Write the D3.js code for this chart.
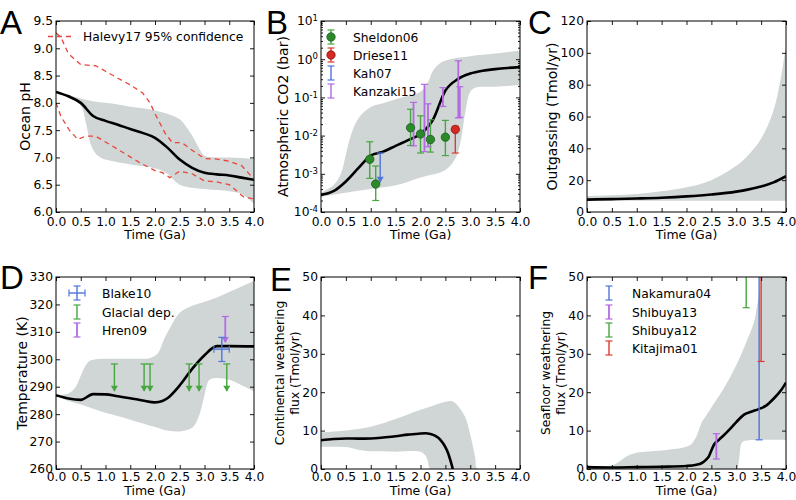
<!DOCTYPE html>
<html><head><meta charset="utf-8">
<script src="https://cdn.jsdelivr.net/npm/d3@7"></script>
<style>body{margin:0;background:#fff} svg{display:block}</style>
</head><body><svg id="c" width="796" height="500"></svg>
<script>
// ---------------- DATA ----------------
const xTicks = [0,0.5,1,1.5,2,2.5,3,3.5,4];
const phTicks = [6,6.5,7,7.5,8,8.5,9,9.5];
const co2Ticks = [1e-4,1e-3,1e-2,1e-1,1e0,1e1];
const outTicks = [0,20,40,60,80,100,120];
const tempTicks = [260,270,280,290,300,310,320,330];
const fluxTicks = [0,10,20,30,40,50];

// Panel A: ocean pH
const phTime   = [0,0.25,0.5,0.75,1,1.25,1.5,1.75,2,2.25,2.5,2.75,3,3.25,3.5,3.75,4];
const phMedian = [8.20,8.12,8.00,7.76,7.67,7.60,7.52,7.45,7.36,7.18,6.96,6.81,6.72,6.69,6.67,6.63,6.59];
const phUpperT = [0,0.25,0.5,0.75,1,1.25,1.5,1.75,2,2.25,2.5,2.6,2.75,2.9,3,3.25,3.5,3.75,4];
const phUpper  = [8.2,8.15,8.08,8.03,8.0,7.97,7.93,7.9,7.86,7.8,7.7,7.6,7.4,7.15,7.03,7.0,7.0,6.99,6.97];
const phLowerT = [0,0.25,0.5,0.6,0.7,0.8,0.9,1,1.5,2,2.25,2.5,3,3.5,3.75,4];
const phLower  = [8.2,8.12,7.95,7.65,7.25,7.07,7.0,6.96,6.87,6.8,6.7,6.5,6.42,6.38,6.33,6.15];
const halevyHiT = [0,0.1,0.25,0.5,0.8,1.0,1.25,1.5,1.75,1.9,2.0,2.2,2.35,2.55,2.75,3.0,3.25,3.5,3.75,4.0];
const halevyHi  = [9.28,9.2,8.9,8.7,8.68,8.58,8.45,8.33,8.18,8.0,7.8,7.45,7.27,7.27,7.13,6.98,6.97,6.93,6.85,6.6];
const halevyLoT = [0,0.1,0.27,0.44,0.6,0.8,1.08,1.41,1.68,2.0,2.15,2.3,2.5,2.75,3.0,3.25,3.5,3.8,4.0];
const halevyLo  = [8.0,7.75,7.5,7.33,7.39,7.39,7.24,7.06,6.91,6.76,6.72,6.63,6.75,6.7,6.57,6.55,6.5,6.27,6.24];

// Panel B: atmospheric CO2 (bar)
const co2Time   = [0,0.25,0.5,0.75,1,1.25,1.5,1.75,2,2.25,2.5,2.75,3,3.25,3.5,3.75,4];
const co2Median = [2.8e-4,3.5e-4,6.3e-4,1.4e-3,3.0e-3,3.8e-3,5.4e-3,7.6e-3,1.1e-2,2.6e-2,0.15,0.3,0.42,0.5,0.55,0.59,0.62];
const co2UpperT = [0,0.25,0.4,0.5,0.6,0.75,1,1.25,1.5,1.75,2,2.15,2.25,2.4,2.6,3,3.5,4];
const co2Upper  = [3.2e-4,5e-4,1e-3,3.2e-3,1e-2,2.8e-2,5.6e-2,7e-2,8.9e-2,0.11,0.14,0.25,0.5,0.8,1.0,1.2,1.4,1.7];
const co2LowerT = [0,0.5,1,1.5,2,2.5,2.7,2.8,2.9,3,3.1,3.5,4];
const co2Lower  = [2.5e-4,3.2e-4,4e-4,5e-4,8e-4,1.26e-3,2.5e-3,6.3e-3,4e-2,0.14,0.18,0.19,0.21];
const sheldonTime = [0.98,1.1,1.8,2.0,2.2,2.5];
const sheldonCO2  = [2.4e-3,5.4e-4,1.6e-2,1.1e-2,7.9e-3,9.1e-3];
const sheldonHigh = [6.9e-3,1.6e-3,4.9e-2,3.3e-2,2.6e-2,2.5e-2];
const sheldonLow  = [7.6e-4,2.0e-4,5.5e-3,3.5e-3,3.7e-3,3.0e-3];
const drieseTime = [2.7], drieseCO2 = [1.45e-2], drieseHigh = [1.75e-2], drieseLow = [3.5e-3];
const kahTime = [1.19], kahHigh = [3.5e-3], kahLimit = [6.2e-4];
const kanzakiTime = [1.86,2.08,2.15,2.45,2.76,2.79];
const kanzakiHigh = [7.4e-2,0.22,6.8e-2,0.18,0.91,0.19];
const kanzakiLow  = [5.4e-3,3.8e-3,5.1e-3,5.8e-2,2.9e-2,3.0e-2];

// Panel C: outgassing (Tmol/yr)
const outTime   = [0,0.5,1,1.5,2,2.5,3,3.25,3.5,3.75,4];
const outMedian = [7.8,8.1,8.5,9.0,9.8,11.0,12.8,14.2,16.0,18.6,22.5];
const outUpperT = [0,0.5,1,1.5,2,2.5,3,3.25,3.5,3.75,3.9,4];
const outUpper  = [10,10.5,11.3,13,15.5,20,29,36,46,64,85,105];
const outLowerT = [0,2,4];
const outLower  = [7,7,7];

// Panel D: temperature (K)
const tempTime   = [0,0.25,0.5,0.75,1,1.25,1.5,1.75,2,2.15,2.25,2.5,2.75,3,3.25,3.5,4];
const tempMedian = [286.9,285.7,285.2,287.3,287.2,286.5,285.8,285.0,284.3,284.8,285.8,290.5,296.5,301.5,304.8,304.8,304.7];
const tempUpperT = [0,0.25,0.4,0.5,0.65,0.8,1,1.5,1.9,2.05,2.2,2.35,2.5,2.75,3,3.25,3.5,3.75,4];
const tempUpper  = [287,287.5,290,294,299,300,300.2,300.2,300.5,302,308,313,317,319.5,321,322.5,324.5,326.5,328.5];
const tempLowerT = [0,0.25,0.5,0.75,1,1.5,2,2.25,2.5,2.75,2.9,3,3.1,3.25,3.5,3.75,4];
const tempLower  = [286.5,284.8,283.5,282,280.5,278,275.3,274,273.7,275,280,287,292.5,293.2,292.5,290.5,288.3];
const blakeTime = [3.35], blakeTemp = [303.7], blakeTimeErr = [[3.19,3.5]], blakeTempErr = [[299.2,308]];
const glacialTime = [1.18,1.78,1.9,2.69,2.89,3.45];
const glacialTop = [298.3,298.3,298.3,298.3,298.3,298.3];
const glacialLimit = [288.5,288.5,288.5,288.5,288.5,288.5];
const hrenTime = [3.42], hrenTop = [315.6], hrenLimit = [306.3];

// Panel E: continental weathering flux
const contTime   = [0,0.25,0.5,0.75,1,1.25,1.5,1.75,2,2.1,2.2,2.3,2.4,2.5,2.55,2.6,2.65];
const contMedian = [7.5,7.8,7.95,7.9,7.95,8.2,8.55,8.95,9.25,9.3,9.1,8.6,7.6,5.7,4.3,2.3,0];
const contUpperT = [0,0.5,1,1.5,2,2.25,2.5,2.65,2.75,2.9,3,3.1,3.15,4];
const contUpper  = [9.5,10,11,13,15.4,16.5,17.5,17.6,16.5,13.5,9,3,0,0];
const contLowerT = [0,0.5,0.75,1,1.5,2,2.1,2.15,2.2,4];
const contLower  = [5.8,5.7,5.0,4.6,4.5,4.5,3.5,2,0,0];

// Panel F: seafloor weathering flux
const seaTime   = [0,0.5,1,1.5,2,2.2,2.3,2.4,2.45,2.5,2.55,2.65,2.75,2.9,3,3.15,3.3,3.45,3.6,3.75,3.9,4];
const seaMedian = [0.5,0.4,0.5,0.6,0.8,1.1,1.5,2.5,3.3,4.8,6.3,7.6,8.8,10.8,12.2,14.1,14.9,15.6,16.5,18.3,20.5,22.5];
const seaUpperT = [0,0.4,0.6,0.8,1,1.5,2,2.1,2.2,2.3,2.4,2.5,2.75,3,3.2,3.35,3.45,3.55,4];
const seaUpper  = [0.5,0.6,1.5,3.3,4.2,4.8,5.8,6.5,8.5,12,14,16,21,27,33,38,45,52,56];
const seaLowerT = [0,0.5,2.5,3.0,3.05,3.1,3.15,4];
const seaLower  = [0.2,0.2,0.1,0.1,2,6.5,7.2,7.5];
const nakamuraTime = [3.46], nakamuraLow = [7.6], nakamuraHigh = [80];
const shibuya13Time = [2.6], shibuya13Low = [2.6], shibuya13High = [9.2];
const shibuya12Time = [3.2], shibuya12Low = [42], shibuya12High = [80];
const kitajimaTime = [3.5], kitajimaLow = [28], kitajimaHigh = [80];

// ---------------- STYLE ----------------
const FONT = '"DejaVu Sans", sans-serif';
const BAND = '#d0d6d5';
const GREEN = '#46a63f', GREEN_DK = '#2a8a2a';
const RED = '#de3b30', BLUE = '#5073dc', PURPLE = '#b36ae3', HRED = '#e8453c';

const svg = d3.select('#c');

function makePanel(o){
  const x = d3.scaleLinear().domain([0,4]).range([o.left,o.right]);
  const y = (o.log ? d3.scaleLog() : d3.scaleLinear()).domain(o.yDomain).range([o.bottom,o.top]);
  svg.append('clipPath').attr('id','clip'+o.id).append('rect')
    .attr('x',o.left).attr('y',o.top).attr('width',o.right-o.left).attr('height',o.bottom-o.top);
  const g = svg.append('g');
  const plot = g.append('g').attr('clip-path',`url(#clip${o.id})`);
  return {o,x,y,g,plot};
}

const curveB = d3.curveCatmullRom.alpha(0.5);
function band(p, tu, vu, tl, vl){
  const line = d3.line().curve(curveB);
  const up = line(tu.map((t,i)=>[p.x(t),p.y(vu[i])]));
  const lo = line(tl.map((t,i)=>[p.x(t),p.y(vl[i])]).reverse());
  p.plot.append('path').attr('d', up+'L'+lo.slice(1)+'Z').attr('fill',BAND).attr('stroke','none');
}
function median(p, t, v){
  const line = d3.line().curve(d3.curveMonotoneX).x(d=>p.x(d[0])).y(d=>p.y(d[1]));
  p.plot.append('path').attr('d', line(t.map((tt,i)=>[tt,v[i]])))
    .attr('fill','none').attr('stroke','#000').attr('stroke-width',2.6).attr('stroke-linejoin','round');
}
function errbar(g, x, y1, y2, color, w, caps){
  g.append('line').attr('x1',x).attr('x2',x).attr('y1',y1).attr('y2',y2).attr('stroke',color).attr('stroke-width',w);
  (caps||[y1,y2]).forEach(yy=>g.append('line').attr('x1',x-3.5).attr('x2',x+3.5).attr('y1',yy).attr('y2',yy).attr('stroke',color).attr('stroke-width',1.2));
}
function arrowDown(g, x, y, color){
  g.append('path').attr('d',`M${x-3.5},${y-5}L${x+3.5},${y-5}L${x},${y+1}Z`).attr('fill',color);
}
function dot(g, x, y, fill, stroke){
  g.append('circle').attr('cx',x).attr('cy',y).attr('r',4.2).attr('fill',fill).attr('stroke',stroke).attr('stroke-width',0.8);
}

function axes(p, yTicks, fmt, minorTicks, xPad){
  const {o,x,y,g} = p;
  const ax = (gen, tx, ty) => {
    const a = g.append('g').attr('transform',`translate(${tx},${ty})`).call(gen);
    a.select('.domain').remove();
    a.attr('font-family',null).attr('font-size',null);
    a.selectAll('text').attr('font-family',FONT).attr('font-size','12.3px').attr('fill','#000');
    a.selectAll('line').attr('stroke','#000').attr('stroke-width',0.9);
    return a;
  };
  ax(d3.axisBottom(x).tickValues(xTicks).tickSize(-4).tickPadding(xPad).tickFormat(d3.format('.1f')), 0, o.bottom);
  ax(d3.axisTop(x).tickValues(xTicks).tickSize(-4).tickFormat(''), 0, o.top);
  const left = ax(d3.axisLeft(y).tickValues(yTicks).tickSize(-4).tickPadding(3).tickFormat(fmt||null), o.left, 0);
  ax(d3.axisRight(y).tickValues(yTicks).tickSize(-4).tickFormat(''), o.right, 0);
  if (minorTicks){
    ax(d3.axisLeft(y).tickValues(minorTicks).tickSize(-2).tickFormat(''), o.left, 0);
    ax(d3.axisRight(y).tickValues(minorTicks).tickSize(-2).tickFormat(''), o.right, 0);
  }
  g.append('rect').attr('x',o.left).attr('y',o.top).attr('width',o.right-o.left).attr('height',o.bottom-o.top)
    .attr('fill','none').attr('stroke','#000').attr('stroke-width',1);
  return left;
}
function text(x, y, s, size, opts){
  opts = opts||{};
  const t = svg.append('text').attr('x',x).attr('y',y).attr('font-family',opts.family||FONT)
    .attr('font-size',size+'px').attr('fill','#000').text(s);
  if (opts.anchor) t.attr('text-anchor',opts.anchor);
  if (opts.rotate) t.attr('transform',`rotate(-90,${x},${y})`);
  if (opts.dy) t.attr('dy',opts.dy);
  return t;
}
function xLabel(p, yy){ text((p.o.left+p.o.right)/2, yy, 'Time (Ga)', 12.5, {anchor:'middle'}); }
function yLabel(x, yc, s, size){ text(x, yc, s, size, {anchor:'middle', rotate:true, dy:'0.35em'}); }
function letter(x, y, s){ text(x, y, s, 33, {family:'"Liberation Sans", Arial, sans-serif'}); }

const TOP_XL = 239, BOT_XL = 495;

// ---------------- PANEL A ----------------
const pA = makePanel({id:'A', left:56, right:254, top:21, bottom:212, yDomain:[6,9.5]});
band(pA, phUpperT, phUpper, phLowerT, phLower);
median(pA, phTime, phMedian);
const dashLine = d3.line().x(d=>pA.x(d[0])).y(d=>pA.y(d[1]));
[[halevyHiT,halevyHi],[halevyLoT,halevyLo]].forEach(([t,v])=>{
  pA.plot.append('path').attr('d',dashLine(t.map((tt,i)=>[tt,v[i]])))
    .attr('fill','none').attr('stroke',HRED).attr('stroke-width',1.3).attr('stroke-dasharray','5,4');
});
axes(pA, phTicks, d3.format('.1f'), null, 5);
svg.append('line').attr('x1',48).attr('x2',73).attr('y1',36.5).attr('y2',36.5).attr('stroke',HRED).attr('stroke-width',1.3).attr('stroke-dasharray','5,4');
text(83, 41, 'Halevy17 95% confidence', 12.3);
xLabel(pA, TOP_XL);
yLabel(25, 116.5, 'Ocean pH', 14);
letter(0, 34, 'A');

// ---------------- PANEL B ----------------
const pB = makePanel({id:'B', left:321, right:520, top:21, bottom:212, yDomain:[1e-4,10], log:true});
band(pB, co2UpperT, co2Upper, co2LowerT, co2Lower);
median(pB, co2Time, co2Median);
sheldonTime.forEach((t,i)=>errbar(pB.plot, pB.x(t), pB.y(sheldonHigh[i]), pB.y(sheldonLow[i]), GREEN, 1.4));
drieseTime.forEach((t,i)=>errbar(pB.plot, pB.x(t), pB.y(drieseHigh[i]), pB.y(drieseLow[i]), RED, 1.4));
kahTime.forEach((t,i)=>{ errbar(pB.plot, pB.x(t), pB.y(kahHigh[i]), pB.y(kahLimit[i]), BLUE, 1.4, [pB.y(kahHigh[i])]); arrowDown(pB.plot, pB.x(t), pB.y(kahLimit[i]), BLUE); });
kanzakiTime.forEach((t,i)=>errbar(pB.plot, pB.x(t), pB.y(kanzakiHigh[i]), pB.y(kanzakiLow[i]), PURPLE, 1.8));
sheldonTime.forEach((t,i)=>dot(pB.plot, pB.x(t), pB.y(sheldonCO2[i]), GREEN_DK, '#1d5e1d'));
drieseTime.forEach((t,i)=>dot(pB.plot, pB.x(t), pB.y(drieseCO2[i]), '#d42a22', '#8a1a14'));
const minorB = [];
[1e-4,1e-3,1e-2,1e-1,1].forEach(d=>{ for(let k=2;k<10;k++) minorB.push(d*k); });
const leftB = axes(pB, co2Ticks, d=>String(d), minorB, 5);
leftB.selectAll('.tick text').each(function(d){
  const t = d3.select(this); const e = Math.round(Math.log10(d));
  t.text(null);
  t.append('tspan').text('10');
  t.append('tspan').attr('dy','-0.5em').attr('font-size','8.5px').text(e);
});
// legend B
const legB = svg.append('g');
[[37,'Sheldon06',GREEN,GREEN_DK,'#1d5e1d'],[55,'Driese11',RED,'#d42a22','#8a1a14'],[73,'Kah07',BLUE,null],[91,'Kanzaki15',PURPLE,null]].forEach(([yy,s,c,f,st])=>{
  errbar(legB, 331, yy-7, yy+7, c, 1.4);
  if (f) dot(legB, 331, yy, f, st);
  text(353, yy+4.5, s, 12.3);
});
xLabel(pB, TOP_XL);
yLabel(283, 116.5, 'Atmospheric CO2 (bar)', 14);
letter(266, 34, 'B');

// ---------------- PANEL C ----------------
const pC = makePanel({id:'C', left:587, right:786, top:21, bottom:212, yDomain:[0,120]});
band(pC, outUpperT, outUpper, outLowerT, outLower);
median(pC, outTime, outMedian);
axes(pC, outTicks, d3.format('d'), null, 5);
xLabel(pC, TOP_XL);
yLabel(552, 116.5, 'Outgassing (Tmol/yr)', 14);
letter(528, 34, 'C');

// ---------------- PANEL D ----------------
const pD = makePanel({id:'D', left:56, right:254, top:277, bottom:469, yDomain:[260,330]});
band(pD, tempUpperT, tempUpper, tempLowerT, tempLower);
median(pD, tempTime, tempMedian);
glacialTime.forEach((t,i)=>{ errbar(pD.plot, pD.x(t), pD.y(glacialTop[i]), pD.y(glacialLimit[i]), GREEN, 1.4, [pD.y(glacialTop[i])]); arrowDown(pD.plot, pD.x(t), pD.y(glacialLimit[i]), GREEN); });
hrenTime.forEach((t,i)=>{ errbar(pD.plot, pD.x(t), pD.y(hrenTop[i]), pD.y(hrenLimit[i]), PURPLE, 1.8, [pD.y(hrenTop[i])]); arrowDown(pD.plot, pD.x(t), pD.y(hrenLimit[i]), PURPLE); });
blakeTime.forEach((t,i)=>{
  const cx = pD.x(t), cy = pD.y(blakeTemp[i]);
  errbar(pD.plot, cx, pD.y(blakeTempErr[i][1]), pD.y(blakeTempErr[i][0]), BLUE, 1.4);
  const x1 = pD.x(blakeTimeErr[i][0]), x2 = pD.x(blakeTimeErr[i][1]);
  pD.plot.append('line').attr('x1',x1).attr('x2',x2).attr('y1',cy).attr('y2',cy).attr('stroke',BLUE).attr('stroke-width',1.4);
  [x1,x2].forEach(xx=>pD.plot.append('line').attr('x1',xx).attr('x2',xx).attr('y1',cy-3.5).attr('y2',cy+3.5).attr('stroke',BLUE).attr('stroke-width',1.2));
});
axes(pD, tempTicks, d3.format('d'), null, 3);
const legD = svg.append('g');
errbar(legD, 77, 286, 300, BLUE, 1.4);
legD.append('line').attr('x1',69).attr('x2',85).attr('y1',293).attr('y2',293).attr('stroke',BLUE).attr('stroke-width',1.4);
[69,85].forEach(xx=>legD.append('line').attr('x1',xx).attr('x2',xx).attr('y1',289.5).attr('y2',296.5).attr('stroke',BLUE).attr('stroke-width',1.2));
text(102, 297.5, 'Blake10', 12.3);
errbar(legD, 77, 305, 319, GREEN, 1.4);
text(102, 316.5, 'Glacial dep.', 12.3);
errbar(legD, 77, 323, 337, PURPLE, 1.8);
text(102, 334.5, 'Hren09', 12.3);
xLabel(pD, BOT_XL);
yLabel(22, 373, 'Temperature (K)', 14);
letter(0, 289, 'D');

// ---------------- PANEL E ----------------
const pE = makePanel({id:'E', left:321, right:520, top:277, bottom:469, yDomain:[0,50]});
band(pE, contUpperT, contUpper, contLowerT, contLower);
median(pE, contTime, contMedian);
axes(pE, fluxTicks, d3.format('d'), null, 3);
xLabel(pE, BOT_XL);
yLabel(280, 373, 'Continental weathering', 12.3);
yLabel(295, 373, 'flux (Tmol/yr)', 12.3);
letter(270, 291, 'E');

// ---------------- PANEL F ----------------
const pF = makePanel({id:'F', left:587, right:786, top:277, bottom:469, yDomain:[0,50]});
band(pF, seaUpperT, seaUpper, seaLowerT, seaLower);
median(pF, seaTime, seaMedian);
shibuya13Time.forEach((t,i)=>errbar(pF.plot, pF.x(t), pF.y(shibuya13High[i]), pF.y(shibuya13Low[i]), PURPLE, 1.8));
shibuya12Time.forEach((t,i)=>errbar(pF.plot, pF.x(t), pF.y(shibuya12High[i]), pF.y(shibuya12Low[i]), GREEN, 1.4));
nakamuraTime.forEach((t,i)=>errbar(pF.plot, pF.x(t), pF.y(nakamuraHigh[i]), pF.y(nakamuraLow[i]), BLUE, 1.4));
kitajimaTime.forEach((t,i)=>errbar(pF.plot, pF.x(t), pF.y(kitajimaHigh[i]), pF.y(kitajimaLow[i]), RED, 1.4));
axes(pF, fluxTicks, d3.format('d'), null, 3);
const legF = svg.append('g');
[[293,'Nakamura04',BLUE],[312,'Shibuya13',PURPLE],[330,'Shibuya12',GREEN],[348,'Kitajima01',RED]].forEach(([yy,s,c])=>{
  errbar(legF, 609, yy-7, yy+7, c, c===PURPLE?1.8:1.4);
  text(632, yy+4.5, s, 12.3);
});
xLabel(pF, BOT_XL);
yLabel(546, 373, 'Seafloor weathering', 12.3);
yLabel(561, 373, 'flux (Tmol/yr)', 12.3);
letter(528, 289, 'F');
</script>
</body></html>
